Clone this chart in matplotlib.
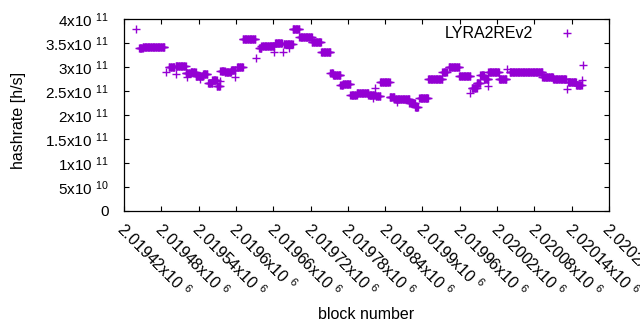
import numpy as np
import matplotlib
matplotlib.use("Agg")
import matplotlib.pyplot as plt
import matplotlib.transforms as mtransforms

plt.rcParams['font.family'] = ['Liberation Sans', 'DejaVu Sans']
plt.rcParams['mathtext.fontset'] = 'custom'
plt.rcParams['mathtext.rm'] = 'Liberation Sans'
plt.rcParams['mathtext.it'] = 'Liberation Sans'
plt.rcParams['mathtext.default'] = 'rm'

# Runs of consecutive blocks sharing one hashrate estimate (GH/s)
run_start = [2019444, 2019450, 2019492, 2019503, 2019519, 2019527, 2019535, 2019547,
             2019555, 2019562, 2019569, 2019575, 2019582, 2019592, 2019602, 2019611,
             2019637, 2019641, 2019663, 2019677, 2019691, 2019702, 2019722, 2019737,
             2019752, 2019756, 2019768, 2019772, 2019784, 2019794, 2019813, 2019825,
             2019832, 2019847, 2019855, 2019879, 2019888, 2019895, 2019909, 2019932,
             2019942, 2019959, 2019979, 2019987, 2019993, 2019999, 2020006, 2020023,
             2020040, 2020093, 2020110, 2020134, 2020147]
run_end = [2019450, 2019485, 2019501, 2019519, 2019527, 2019535, 2019547, 2019554,
           2019562, 2019569, 2019574, 2019582, 2019592, 2019599, 2019611, 2019631,
           2019641, 2019661, 2019674, 2019691, 2019702, 2019722, 2019737, 2019752,
           2019756, 2019768, 2019772, 2019784, 2019794, 2019813, 2019823, 2019832,
           2019847, 2019855, 2019879, 2019888, 2019893, 2019909, 2019932, 2019939,
           2019959, 2019977, 2019987, 2019993, 2019999, 2020006, 2020023, 2020035,
           2020093, 2020110, 2020131, 2020147, 2020156]
run_rate = [339.5, 341.0, 300.6, 302.7, 286.9, 290.2, 281.2, 285.4,
            266.0, 272.3, 260.4, 292.7, 290.2, 294.4, 300.6, 357.7,
            339.0, 343.7, 349.4, 347.3, 378.5, 363.1, 352.7, 330.6,
            286.9, 282.7, 262.5, 264.0, 241.0, 246.5, 242.7, 240.2,
            268.1, 238.1, 233.3, 224.4, 217.3, 234.8, 275.0, 289.0,
            300.6, 281.9, 255.6, 266.0, 283.3, 276.0, 290.2, 275.6,
            289.0, 279.8, 275.6, 269.4, 262.5]

# Isolated blocks
pt_block = [2019440, 2019488, 2019503, 2019521, 2019543, 2019575, 2019599, 2019633,
            2019661, 2019675, 2019686, 2019820, 2019824, 2019859, 2019977, 2020006,
            2020036, 2020133, 2020156, 2020158]
pt_rate = [378.5, 289.0, 285.4, 279.8, 274.4, 271.5, 279.8, 318.1,
           330.6, 331.9, 339.0, 234.8, 255.6, 227.7, 246.5, 261.0,
           295.2, 253.5, 272.9, 304.2]

x_ticks = [2019420, 2019480, 2019540, 2019600, 2019660, 2019720, 2019780,
           2019840, 2019900, 2019960, 2020020, 2020080, 2020140, 2020200]
x_tick_labels = ['2.01942', '2.01948', '2.01954', '2.0196', '2.01966', '2.01972',
                 '2.01978', '2.01984', '2.0199', '2.01996', '2.02002', '2.02008',
                 '2.02014', '2.0202']
y_ticks = [0, 5e10, 1e11, 1.5e11, 2e11, 2.5e11, 3e11, 3.5e11, 4e11]
y_tick_labels = ['0', '5x10 $^{10}$', '1x10 $^{11}$', '1.5x10 $^{11}$', '2x10 $^{11}$',
                 '2.5x10 $^{11}$', '3x10 $^{11}$', '3.5x10 $^{11}$', '4x10 $^{11}$']

blocks = []
rates = []
for s, e, r in zip(run_start, run_end, run_rate):
    b = np.arange(s, e + 1)
    blocks.append(b)
    rates.append(np.full(len(b), r))
blocks.append(np.array(pt_block))
rates.append(np.array(pt_rate))
blocks = np.concatenate(blocks)
rates = np.concatenate(rates) * 1e9

color = '#9400d3'
fig = plt.figure(figsize=(6.4, 3.3), dpi=100)
ax = fig.add_axes([124 / 640, 1 - 211 / 330, (609 - 124) / 640, (211 - 19) / 330])
ax.plot(blocks, rates, linestyle='none', marker='+', color=color,
        markersize=5.2, markeredgewidth=1.0, label='LYRA2REv2')

ax.set_xlim(2019420, 2020200)
ax.set_ylim(0, 4e11)
ax.set_xticks(x_ticks)
ax.set_xticklabels([l + 'x10 $^{6}$' for l in x_tick_labels], rotation=-45,
                   ha='left', va='top', rotation_mode='anchor', fontsize=11.5)
ax.set_yticks(y_ticks)
ax.set_yticklabels(y_tick_labels, fontsize=11)
ax.tick_params(direction='in', length=3.5, width=0.8, top=True, right=True,
               colors='black')
ax.tick_params(axis='x', pad=6)
ax.tick_params(axis='y', pad=11)
for sp in ax.spines.values():
    sp.set_linewidth(0.9)

shift = mtransforms.ScaledTranslation(3 / 100, 0, fig.dpi_scale_trans)
for lab in ax.get_xticklabels():
    lab.set_transform(lab.get_transform() + shift)

ax.set_xlabel('block number', fontsize=11.5)
ax.xaxis.set_label_coords(0.5, -0.5)
ax.set_ylabel('hashrate [h/s]', fontsize=11.5)
ax.yaxis.set_label_coords(-0.202, 0.474)

leg = ax.legend(loc='upper right', bbox_to_anchor=(0.963, 0.962), frameon=False,
                markerfirst=False, borderaxespad=0, borderpad=0, handlelength=3,
                handletextpad=0.65, fontsize=11.5)

fig.savefig('out.png', dpi=100)
